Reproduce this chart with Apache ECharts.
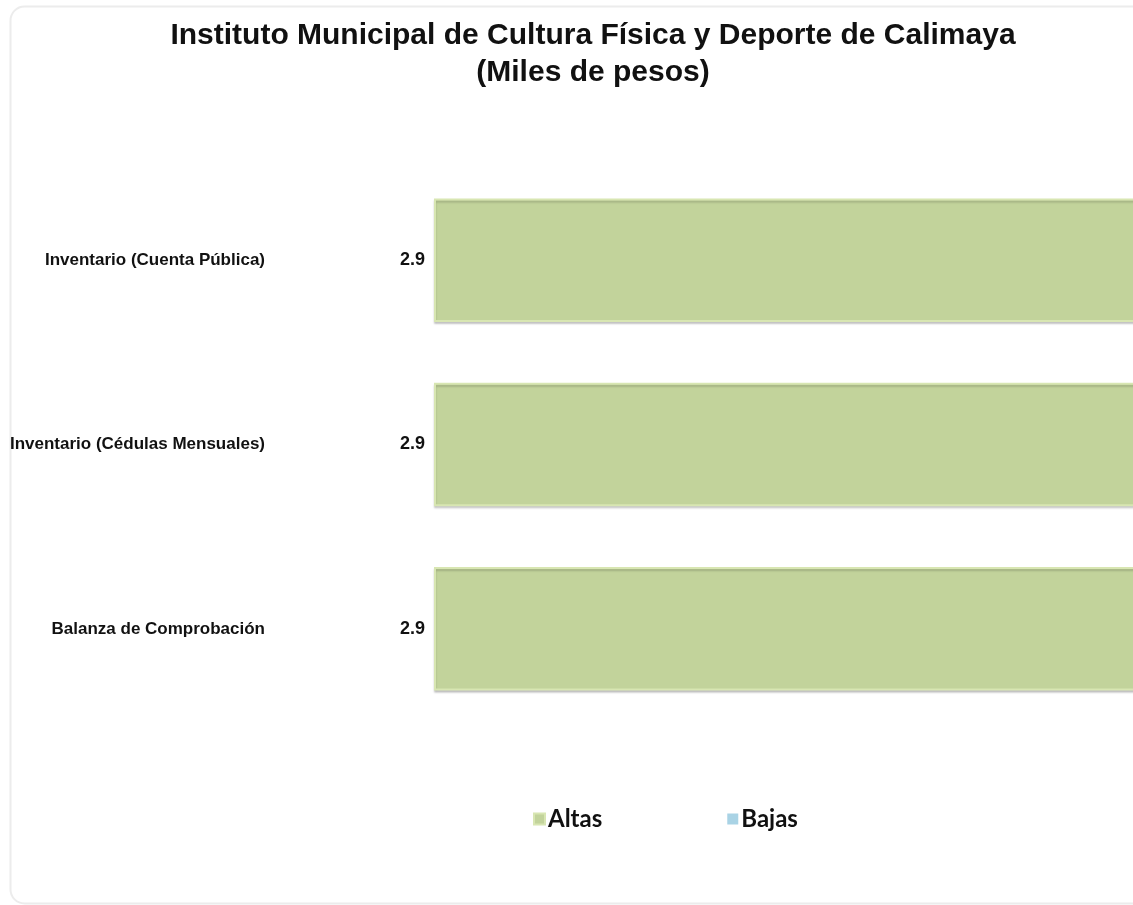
<!DOCTYPE html>
<html>
<head>
<meta charset="utf-8">
<script src="https://cdn.jsdelivr.net/npm/echarts@6/dist/echarts.min.js"></script>
<style>html,body{margin:0;padding:0;background:#fff;}#c{width:1133px;height:905px;}</style>
</head>
<body>
<div id="c"></div>
<script>
var categories = ['Balanza de Comprobación', 'Inventario (Cédulas Mensuales)', 'Inventario (Cuenta Pública)'];
var altas = [2.9, 2.9, 2.9];
var bajas = [0, 0, 0];
var seriesNames = ['Altas', 'Bajas'];

var chart = echarts.init(document.getElementById('c'), null, {renderer: 'canvas'});
chart.setOption({
  backgroundColor: '#ffffff',
  animation: false,
  title: {
    text: 'Instituto Municipal de Cultura Física y Deporte de Calimaya\n(Miles de pesos)',
    left: 588, top: 12, textAlign: 'center',
    textStyle: {fontFamily: 'Liberation Sans, Arial, sans-serif', fontWeight: 'bold', fontSize: 30, lineHeight: 37, color: '#111'}
  },
  graphic: [{
    type: 'rect', z: -1, silent: true,
    shape: {x: 10.5, y: 6.5, width: 1200, height: 897, r: 14},
    style: {fill: 'none', stroke: '#ececec', lineWidth: 2}
  }],
  legend: {
    data: seriesNames,
    left: 528, top: 802,
    itemWidth: 11, itemHeight: 11, itemGap: 125,
    icon: 'rect',
    textStyle: {fontFamily: 'Lato, Open Sans, sans-serif', fontWeight: 'bold', fontSize: 24, color: '#111', padding: [0, 0, 0, -2]}
  },
  grid: {left: 434, width: 760, top: 168, bottom: 184, containLabel: false, outerBoundsMode: 'none'},
  xAxis: {type: 'value', min: 0, max: 2.9, show: false},
  yAxis: {
    type: 'category', data: categories,
    axisLine: {show: false}, axisTick: {show: false}, splitLine: {show: false},
    axisLabel: {margin: 169, fontFamily: 'Liberation Sans, Arial, sans-serif', fontWeight: 'bold', fontSize: 17, color: '#111'}
  },
  series: [
    {
      name: seriesNames[0], type: 'bar', stack: 'total', data: altas,
      barWidth: '67%',
      itemStyle: {color: '#c2d39b', borderColor: '#d8e6b2', borderWidth: 2,
        shadowColor: 'rgba(0,0,0,0.18)', shadowBlur: 2, shadowOffsetX: 0, shadowOffsetY: 2},
      label: {show: true, position: 'left', distance: 9, formatter: function(p){return p.value.toFixed(1);},
        fontFamily: 'Liberation Sans, Arial, sans-serif', fontWeight: 'bold', fontSize: 18, color: '#111'}
    },
    {
      name: seriesNames[1], type: 'bar', stack: 'total', data: bajas,
      barWidth: '67%',
      itemStyle: {color: '#a9d3e5', borderWidth: 0},
      label: {show: false}
    }
  ]
});
</script>
</body>
</html>
